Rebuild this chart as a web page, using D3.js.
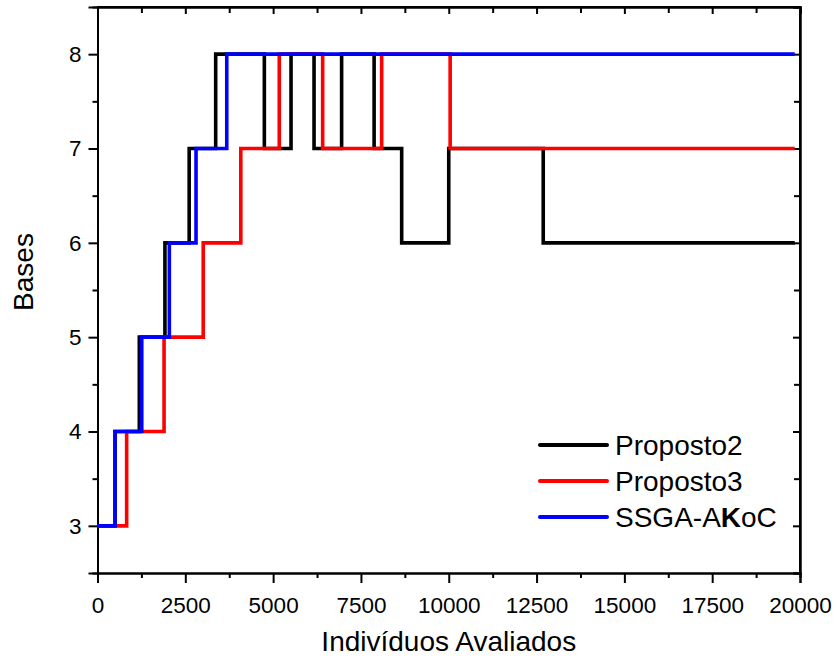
<!DOCTYPE html>
<html>
<head>
<meta charset="utf-8">
<script src="https://cdn.jsdelivr.net/npm/d3@7"></script>
<style>
  html, body { margin: 0; padding: 0; background: #fff; }
  svg { display: block; font-family: "Liberation Sans", Arial, Helvetica, sans-serif; }
</style>
</head>
<body>
<svg id="chart" width="837" height="661"></svg>
<script>
// Best number of bases found vs. number of evaluated individuals (step traces)
const proposto2X = [0, 500, 1190, 1920, 2610, 3365, 4750, 5510, 6165, 6950, 7875, 8660, 10000, 12690, 19850];
const proposto2Y = [3, 4, 5, 6, 7, 8, 7, 8, 7, 8, 7, 6, 7, 6, 6];

const proposto3X = [0, 830, 1895, 3010, 4080, 5175, 6410, 8090, 10040, 19850];
const proposto3Y = [3, 4, 5, 6, 7, 8, 7, 8, 7, 7];

const ssgaX = [0, 500, 1260, 2045, 2805, 3680, 19850];
const ssgaY = [3, 4, 5, 6, 7, 8, 8];

const xTicks = [0, 2500, 5000, 7500, 10000, 12500, 15000, 17500, 20000];
const yTicks = [3, 4, 5, 6, 7, 8];

const seriesNames = ["Proposto2", "Proposto3", "SSGA-AKoC"];
const seriesColors = ["#000000", "#ff0000", "#0000ff"];

const svg = d3.select("#chart");
const plotL = 97.5, plotR = 800, plotT = 7, plotB = 573;

const x = d3.scaleLinear().domain([0, 20000]).range([plotL, plotR]);
const y = d3.scaleLinear().domain([2.5, 8.5]).range([plotB, plotT]);

const xMinor = d3.range(1250, 20000, 2500);
const yMinor = d3.range(3.5, 8.5, 1);

const tickFont = "22.5px";

// Bottom axis: outward ticks
const gB = svg.append("g").attr("transform", `translate(0,${plotB})`)
  .call(d3.axisBottom(x).tickValues(xTicks).tickFormat(d3.format("d")).tickSize(10).tickPadding(14));
gB.selectAll("text").attr("font-size", tickFont).attr("fill", "#000").attr("font-family", "Liberation Sans, Arial, sans-serif");
svg.append("g").attr("transform", `translate(0,${plotB})`)
  .call(d3.axisBottom(x).tickValues(xMinor).tickFormat("").tickSize(5));

// Left axis: outward ticks
const gL = svg.append("g").attr("transform", `translate(${plotL},0)`)
  .call(d3.axisLeft(y).tickValues(yTicks).tickFormat(d3.format("d")).tickSize(9).tickPadding(7));
gL.selectAll("text").attr("font-size", tickFont).attr("fill", "#000").attr("font-family", "Liberation Sans, Arial, sans-serif");
svg.append("g").attr("transform", `translate(${plotL},0)`)
  .call(d3.axisLeft(y).tickValues(yMinor).tickFormat("").tickSize(5));

// Top axis: inward ticks
svg.append("g").attr("transform", `translate(0,${plotT})`)
  .call(d3.axisBottom(x).tickValues(xTicks).tickFormat("").tickSize(7));
svg.append("g").attr("transform", `translate(0,${plotT})`)
  .call(d3.axisBottom(x).tickValues(xMinor).tickFormat("").tickSize(6));

// Right axis: inward ticks
svg.append("g").attr("transform", `translate(${plotR},0)`)
  .call(d3.axisLeft(y).tickValues(yTicks).tickFormat("").tickSize(7));
svg.append("g").attr("transform", `translate(${plotR},0)`)
  .call(d3.axisLeft(y).tickValues(yMinor).tickFormat("").tickSize(6));

svg.selectAll(".domain").attr("stroke", "#000").attr("stroke-width", 2);
svg.selectAll(".tick line").attr("stroke", "#000").attr("stroke-width", 2);

// Frame edges
svg.append("path")
  .attr("d", `M${plotL},${plotT}H${plotR}V${plotB}`)
  .attr("fill", "none").attr("stroke", "#000").attr("stroke-width", 2);

// Step traces, drawn black, red, blue
const line = d3.line().x(d => x(d[0])).y(d => y(d[1])).curve(d3.curveStepAfter);
const series = [
  d3.zip(proposto2X, proposto2Y),
  d3.zip(proposto3X, proposto3Y),
  d3.zip(ssgaX, ssgaY)
];
series.forEach((pts, i) => {
  svg.append("path")
    .attr("d", line(pts))
    .attr("fill", "none")
    .attr("stroke", seriesColors[i])
    .attr("stroke-width", 3.6)
    .attr("stroke-linejoin", "miter")
    .attr("stroke-linecap", "butt");
});

// Axis titles
svg.append("text")
  .attr("x", (plotL + plotR) / 2).attr("y", 651)
  .attr("text-anchor", "middle").attr("font-size", "28px").attr("fill", "#000")
  .text("Indivíduos Avaliados");
svg.append("text")
  .attr("transform", "translate(33,272) rotate(-90)")
  .attr("text-anchor", "middle").attr("font-size", "28px").attr("fill", "#000")
  .text("Bases");

// Legend
const legendY = [445, 481, 517];
seriesNames.forEach((name, i) => {
  svg.append("line")
    .attr("x1", 540).attr("x2", 607)
    .attr("y1", legendY[i]).attr("y2", legendY[i])
    .attr("stroke", seriesColors[i]).attr("stroke-width", 4).attr("stroke-linecap", "round");
  const t = svg.append("text")
    .attr("x", 615).attr("y", legendY[i] + 10)
    .attr("font-size", "28px").attr("fill", "#000");
  if (name === "SSGA-AKoC") {
    t.append("tspan").text("SSGA-A");
    t.append("tspan").attr("font-weight", "bold").text("K");
    t.append("tspan").text("oC");
  } else {
    t.text(name);
  }
});
</script>
</body>
</html>
